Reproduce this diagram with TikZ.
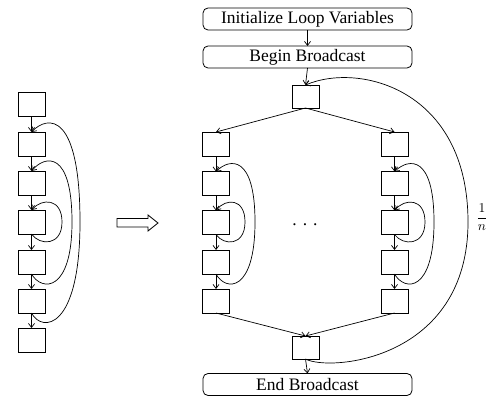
\documentclass[tikz,border=0pt]{standalone}
\usepackage{fontspec}
\usepackage{graphicx}
\setmainfont{Liberation Serif}
\usetikzlibrary{arrows.meta}
\begin{document}
\begin{tikzpicture}[x=1pt,y=-1pt,
  every node/.style={inner sep=0pt,outer sep=0pt},
  blk/.style={draw,line width=0.8pt,minimum width=27pt,minimum height=24pt},
  stage/.style={draw,line width=0.8pt,rounded corners=5pt,minimum width=209pt,minimum height=22pt,font=\fontsize{17.5}{20}\selectfont},
  edge/.style={line width=0.7pt,-{Straight Barb[length=4pt,width=6pt,line width=0.7pt]}}]
\useasboundingbox (0,0) rectangle (495,396);
% left column
\foreach \i/\y in {1/104.5,2/144,3/183,4/222,5/262,6/301,7/340}
  \node[blk] (a\i) at (31.5,\y) {};
\foreach \i/\j in {1/2,2/3,3/4,4/5,5/6,6/7}
  \draw[edge] (a\i.south) -- (a\j.north);
\draw[edge] (a4.south) .. controls (40,246) and (62,246) .. (62,222) .. controls (62,198) and (42,198) .. (a4.north);
\draw[edge] (a5.south) .. controls (42,292) and (72,292) .. (72,222) .. controls (72,150) and (45,155) .. (a3.north);
\draw[edge] (a6.south) .. controls (42,333) and (80,330) .. (80,222) .. controls (80,112) and (48,115) .. (a2.north);
% hollow arrow
\draw[line width=0.8pt] (117,218.5) -- (148,218.5) -- (148,215) -- (158,223) -- (148,231) -- (148,227) -- (117,227) -- cycle;
% right diagram
\node[stage] (init) at (307.5,19) {Initialize Loop Variables};
\node[stage] (begin) at (307.5,57) {Begin Broadcast};
\node[stage] (endb) at (307.5,384.5) {End Broadcast};
\node[blk,minimum height=23pt] (top) at (305.5,96.5) {};
\node[blk,minimum height=23pt] (bot) at (305.5,347.5) {};
\foreach \c/\x in {l/216,r/394.5}{
  \foreach \i/\y in {1/144,2/183.5,3/222.5,4/262,5/301}
    \node[blk] (\c\i) at (\x,\y) {};
}
\draw[edge] (init.south) -- (begin.north);
\draw[edge] (begin.south) -- (top.north);
\draw[edge] (bot.south) -- (endb.north);
\foreach \c in {l,r}{
  \draw[edge] (top.south) -- (\c1.north);
  \draw[edge] (\c5.south) -- (bot.north);
  \foreach \i/\j in {1/2,2/3,3/4,4/5}
    \draw[edge] (\c\i.south) -- (\c\j.north);
}
\draw[edge] (l3.south) .. controls (224,246) and (245,246) .. (245,222) .. controls (245,198) and (226,198) .. (l3.north);
\draw[edge] (l4.south) .. controls (226,292) and (255,292) .. (255,222) .. controls (255,155) and (230,158) .. (l2.north);
\draw[edge] (r3.south) .. controls (403,246) and (425,246) .. (425,222) .. controls (425,198) and (405,198) .. (r3.north);
\draw[edge] (r4.south) .. controls (405,292) and (434,292) .. (434,222) .. controls (434,155) and (409,158) .. (r2.north);
\draw[edge] (bot.south) .. controls (330,372) and (468,360) .. (468,222) .. controls (468,90) and (360,62) .. (top.north);
\node (dots) at (305,225) {\fontsize{17.5}{20}\selectfont .\hspace{6pt}.\hspace{6pt}.};
\node (frac) at (482,217) {\scalebox{1.35}{$\displaystyle\frac{1}{n}$}};
\end{tikzpicture}
\end{document}
